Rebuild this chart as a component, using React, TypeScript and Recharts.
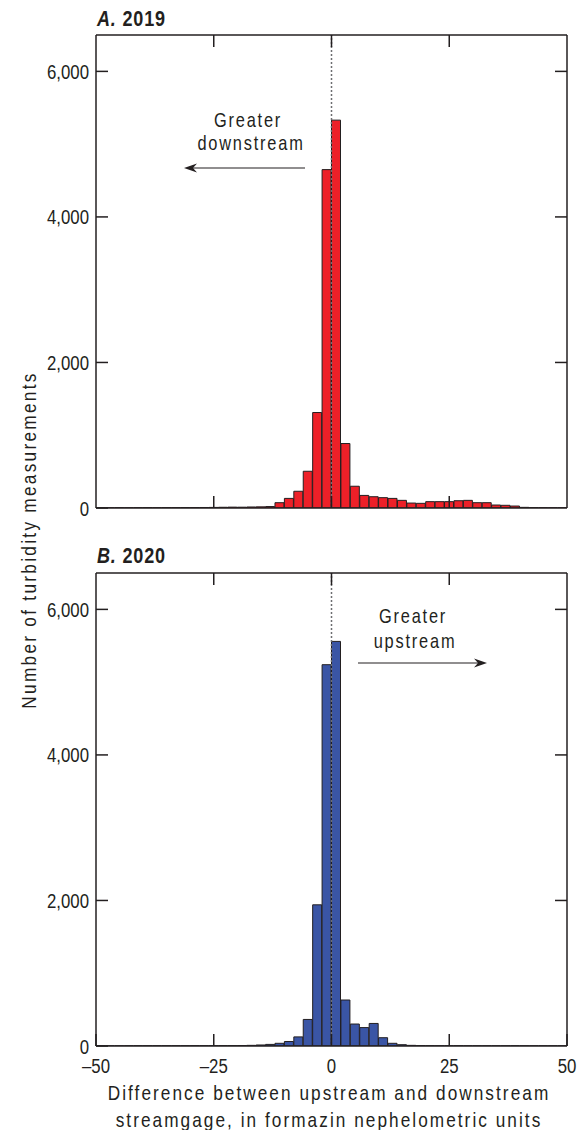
import { Bar, BarChart, ReferenceLine, XAxis, YAxis } from "recharts";

// lower edge of each 2-FNU bin
const binStarts = [
  -50, -48, -46, -44, -42, -40, -38, -36, -34, -32, -30, -28, -26, -24, -22, -20, -18, -16, -14, -12,
  -10, -8, -6, -4, -2, 0, 2, 4, 6, 8, 10, 12, 14, 16, 18, 20, 22, 24, 26, 28, 30, 32, 34, 36, 38, 40,
  42, 44, 46, 48,
];

const counts2019 = [
  3, 3, 4, 3, 4, 5, 4, 5, 5, 6, 6, 7, 8, 10, 12, 11, 14, 16, 20, 73,
  132, 230, 505, 1312, 4650, 5330, 886, 299, 173, 155, 142, 132, 105, 68, 64, 87, 87, 87, 100, 105,
  73, 73, 41, 37, 27, 9, 5, 4, 3, 3,
];

const counts2020 = [
  2, 2, 2, 2, 3, 3, 3, 3, 3, 3, 4, 4, 4, 5, 5, 6, 9, 14, 22, 37,
  62, 125, 365, 1940, 5240, 5560, 632, 302, 253, 310, 114, 37, 18, 9, 5, 4, 3, 3, 3, 2,
  2, 2, 2, 2, 2, 2, 2, 2, 2, 2,
];

const yTicks = [0, 2000, 4000, 6000];
const yInnerTicks = [2000, 4000, 6000];
const xTopTicks = [-25, 0, 25];
const xLabelTicks = [-50, -25, 0, 25, 50];

const FONT = "'Liberation Sans', Arial, sans-serif";
const INK = "#231F20";
const TICK = 12;
// squeeze Liberation Sans to a condensed width
const SQUEEZE = 0.82;

const fmtY = (v: number) => v.toLocaleString("en-US");
const fmtX = (v: number) => (v < 0 ? `\u2013${Math.abs(v)}` : `${v}`);

type NarrowProps = {
  x: number;
  y: number;
  size: number;
  anchor?: "start" | "middle" | "end";
  spacing?: number;
  rotate?: number;
  bold?: boolean;
  children: any;
};

function Narrow({ x, y, size, anchor = "start", spacing = 0, rotate = 0, bold, children }: NarrowProps) {
  return (
    <text
      transform={`translate(${x},${y}) rotate(${rotate}) scale(${SQUEEZE},1)`}
      fontFamily={FONT}
      fontSize={size}
      fontWeight={bold ? "bold" : "normal"}
      letterSpacing={spacing}
      textAnchor={anchor}
      fill={INK}
    >
      {children}
    </text>
  );
}

function LeftTick({ x, y, payload }: any) {
  return (
    <g>
      <line x1={x} x2={x + TICK} y1={y} y2={y} stroke={INK} strokeWidth={1.5} />
      <Narrow x={x - 7} y={y + 7.5} size={20.5} anchor="end">
        {fmtY(payload.value)}
      </Narrow>
    </g>
  );
}

function RightTick({ x, y }: any) {
  return <line x1={x} x2={x - TICK} y1={y} y2={y} stroke={INK} strokeWidth={1.5} />;
}

function TopTick({ x, y }: any) {
  return <line x1={x} x2={x} y1={y} y2={y + TICK} stroke={INK} strokeWidth={1.5} />;
}

function BottomTick({ x, y, payload, labelled }: any) {
  return (
    <g>
      <line x1={x} x2={x} y1={y} y2={y - TICK} stroke={INK} strokeWidth={1.5} />
      {labelled && (
        <Narrow x={x} y={y + 27} size={20.5} anchor="middle">
          {fmtX(payload.value)}
        </Narrow>
      )}
    </g>
  );
}

type PanelProps = {
  counts: number[];
  fill: string;
  top: number;
  height: number;
  topAxis: number;
  bottomAxis: number;
  labelled: boolean;
};

function Panel({ counts, fill, top, height, topAxis, bottomAxis, labelled }: PanelProps) {
  const rows = binStarts.map((bin, i) => ({ bin, count: counts[i] }));
  return (
    <div style={{ position: "absolute", left: 0, top }}>
      <BarChart
        width={585}
        height={height}
        data={rows}
        margin={{ top: 0, right: 0, bottom: 0, left: 0 }}
        barCategoryGap={0}
        barGap={0}
      >
        <XAxis
          xAxisId="top"
          orientation="top"
          dataKey="bin"
          type="number"
          domain={[-50, 50]}
          allowDataOverflow
          ticks={xTopTicks}
          interval={0}
          height={topAxis}
          tickSize={0}
          tickMargin={0}
          tick={<TopTick />}
          axisLine={{ stroke: INK, strokeWidth: 1.5 }}
        />
        <XAxis
          xAxisId="bottom"
          orientation="bottom"
          dataKey="bin"
          type="number"
          domain={[-50, 50]}
          allowDataOverflow
          ticks={labelled ? xLabelTicks : xTopTicks}
          interval={0}
          height={bottomAxis}
          tickSize={0}
          tickMargin={0}
          tick={<BottomTick labelled={labelled} />}
          axisLine={{ stroke: INK, strokeWidth: 1.5 }}
        />
        {/* band axis used only to lay the histogram bars edge to edge */}
        <XAxis xAxisId="bins" dataKey="bin" type="category" orientation="top" height={0} hide />
        <YAxis
          yAxisId="left"
          dataKey="count"
          domain={[0, 6500]}
          allowDataOverflow
          ticks={yTicks}
          interval={0}
          width={96}
          tickSize={0}
          tickMargin={0}
          tick={<LeftTick />}
          axisLine={{ stroke: INK, strokeWidth: 1.5 }}
        />
        <YAxis
          yAxisId="right"
          orientation="right"
          dataKey="count"
          domain={[0, 6500]}
          allowDataOverflow
          ticks={yInnerTicks}
          interval={0}
          width={18}
          tickSize={0}
          tickMargin={0}
          tick={<RightTick />}
          axisLine={{ stroke: INK, strokeWidth: 1.5 }}
        />
        <Bar
          xAxisId="bins"
          yAxisId="left"
          dataKey="count"
          fill={fill}
          stroke={INK}
          strokeWidth={1}
          isAnimationActive={false}
        />
        <ReferenceLine
          xAxisId="bottom"
          yAxisId="left"
          x={0}
          stroke="#6D6E71"
          strokeWidth={1.5}
          strokeDasharray="2 2"
        />
      </BarChart>
    </div>
  );
}

export default function App() {
  return (
    <div style={{ position: "absolute", left: 0, top: 0, width: 585, height: 1130, background: "#fff" }}>
      <Panel counts={counts2019} fill="#ED2028" top={0} height={530} topAxis={35} bottomAxis={22} labelled={false} />
      <Panel counts={counts2020} fill="#3A55A5" top={540} height={590} topAxis={33} bottomAxis={84} labelled />
      <svg
        width={585}
        height={1130}
        style={{ position: "absolute", left: 0, top: 0, pointerEvents: "none" }}
      >
        <Narrow x={97} y={26} size={22} spacing={1} bold>
          <tspan fontStyle="italic">A.</tspan>
          {" 2019"}
        </Narrow>
        <Narrow x={97} y={563} size={22} spacing={1} bold>
          <tspan fontStyle="italic">B.</tspan>
          {" 2020"}
        </Narrow>

        <Narrow x={248} y={127} size={20} spacing={2.2} anchor="middle">Greater</Narrow>
        <Narrow x={251} y={150} size={20} spacing={2.2} anchor="middle">downstream</Narrow>
        <line x1={305} x2={190} y1={168} y2={168} stroke={INK} strokeWidth={1.2} />
        <polygon points="184,168 197,163.5 193,168 197,172.5" fill={INK} />

        <Narrow x={413} y={623} size={20} spacing={2.2} anchor="middle">Greater</Narrow>
        <Narrow x={415} y={648} size={20} spacing={2.2} anchor="middle">upstream</Narrow>
        <line x1={358} x2={481} y1={663} y2={663} stroke={INK} strokeWidth={1.2} />
        <polygon points="487,663 474,658.5 478,663 474,667.5" fill={INK} />

        <Narrow x={36} y={540} size={21} spacing={2.8} rotate={-90} anchor="middle">
          Number of turbidity measurements
        </Narrow>
        <Narrow x={329} y={1100} size={21} spacing={2.5} anchor="middle">
          Difference between upstream and downstream
        </Narrow>
        <Narrow x={329} y={1127} size={21} spacing={2.5} anchor="middle">
          streamgage, in formazin nephelometric units
        </Narrow>
      </svg>
    </div>
  );
}
